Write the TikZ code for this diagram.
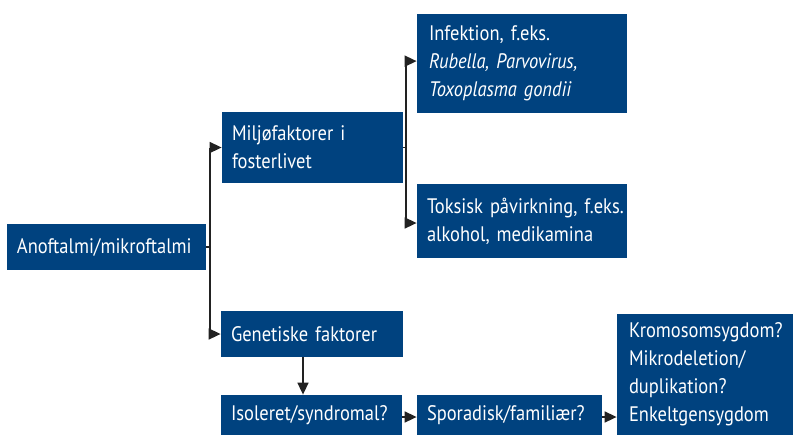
\documentclass[tikz,border=0pt]{standalone}
\usepackage{fontspec}
\setmainfont{PT Sans}[FakeStretch=0.88, WordSpace=0.8]
\usepackage{xcolor}
\usetikzlibrary{positioning, arrows.meta}
\definecolor{navy}{HTML}{00427f}
\definecolor{wire}{HTML}{222222}

\begin{document}
\begin{tikzpicture}[x=0.5pt, y=-0.5pt,
    font=\fontsize{10.5}{14}\selectfont,
    box/.style={rectangle, fill=navy, text=white, inner xsep=5pt, inner ysep=0pt, align=left},
    link/.style={draw=wire, line width=0.8pt},
    arr/.style={link, -{Triangle[length=6pt, width=5.5pt]}}]
  \useasboundingbox (0,0) rectangle (793,435);
  \node[box, minimum width=99.5pt, minimum height=23pt, text width=89.5pt] (ano) at (106.5,247) {Anoftalmi/mikroftalmi};
  \node[box, minimum width=90.5pt, minimum height=35.5pt, text width=80.5pt] (milj) at (312.5,147.5) {Miljøfaktorer i\\fosterlivet};
  \node[box, minimum width=91pt, minimum height=23pt, text width=81pt] (gen) at (312,334) {Genetiske faktorer};
  \node[box, minimum width=90.5pt, minimum height=20pt, text width=80.5pt] (iso) at (311.5,415) {Isoleret/syndromal?};
  \node[box, minimum width=105pt, minimum height=49.5pt, text width=93pt, inner xsep=6pt] (inf) at (522,63.5) {Infektion, f.eks.\\\textit{Rubella, Parvovirus,}\\\textit{Toxoplasma gondii}};
  \node[box, minimum width=105pt, minimum height=37pt, text width=95pt] (tok) at (522,221) {\mbox{Toksisk påvirkning, f.eks.}\\alkohol, medikamina};
  \node[box, minimum width=92.5pt, minimum height=20pt, text width=82.5pt] (spor) at (509.5,415) {Sporadisk/familiær?};
  \node[box, minimum width=88pt, minimum height=60.5pt, text width=76pt, inner xsep=6pt] (krom) at (705,374.5) {Kromosomsygdom?\\Mikrodeletion/\\duplikation?\\Enkeltgensygdom};
  % forgreninger
  \coordinate (j1) at (210,247);
  \coordinate (j2) at (406,147.5);
  \draw[link] (ano.east) -- (j1);
  \draw[arr] (j1) |- (milj.west);
  \draw[arr] (j1) |- (gen.west);
  \draw[link] (milj.east) -- (j2);
  \draw[arr] (j2) |- ([yshift=1.2pt]inf.west);
  \draw[arr] (j2) |- ([yshift=-1pt]tok.west);
  % genetisk udredning
  \draw[arr] ([xshift=-4.5pt]gen.south) -- ([xshift=-4.5pt]gen.south |- iso.north);
  \draw[arr] ([yshift=-1pt]iso.east) -- ([yshift=-1pt]spor.west);
  \draw[arr] ([yshift=-1pt]spor.east) -- ([yshift=-1pt]spor.east -| krom.west);
\end{tikzpicture}
\end{document}
